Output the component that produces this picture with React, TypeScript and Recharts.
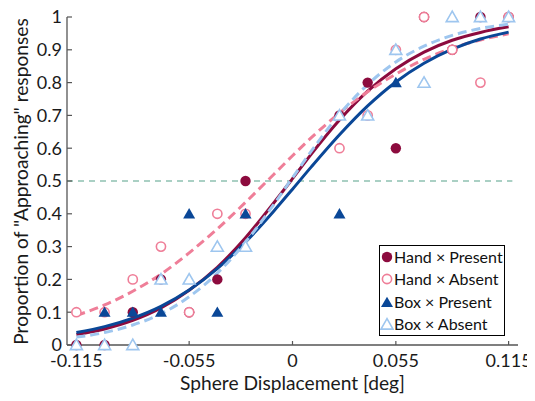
import React from 'react';
import { ComposedChart, XAxis, YAxis, Line, Scatter, ReferenceLine, Legend, Label } from 'recharts';

const FONT = 'Lato, "Open Sans", sans-serif';

const C_HP = '#8c0b3e';
const C_HA = '#ef7e98';
const C_BP = '#0a4797';
const C_BA = '#9ec6ef';
const C_REF = '#8fc1b1';

// Stimulus levels (deg)
const xLevels = [-0.115, -0.1, -0.085, -0.07, -0.055, -0.04, -0.025, 0.025, 0.04, 0.055, 0.07, 0.085, 0.1, 0.115];
// Observed proportions
const handPresent = [0, 0, 0.1, 0.2, 0.1, 0.2, 0.5, 0.7, 0.8, 0.6, 1, 0.9, 1, 1];
const handAbsent = [0.1, 0.1, 0.2, 0.3, 0.1, 0.4, 0.4, 0.6, 0.7, 0.9, 1, 0.9, 0.8, 1];
const boxPresent = [0, 0.1, 0.1, 0.1, 0.4, 0.1, 0.4, 0.4, 0.7, 0.8, 0.8, 1, 1, 1];
const boxAbsent = [0, 0, 0, 0.2, 0.2, 0.3, 0.3, 0.7, 0.7, 0.9, 0.8, 1, 1, 1];

// Fitted curves
const curveX = [-0.115, -0.1, -0.085, -0.07, -0.055, -0.04, -0.025, -0.01, 0, 0.01, 0.025, 0.04, 0.055, 0.07, 0.085, 0.1, 0.115];
const fitHandPresent = [0.032, 0.049, 0.075, 0.113, 0.167, 0.237, 0.327, 0.433, 0.507, 0.582, 0.686, 0.774, 0.842, 0.893, 0.929, 0.953, 0.97];
const fitHandAbsent = [0.09, 0.122, 0.164, 0.216, 0.281, 0.354, 0.435, 0.52, 0.577, 0.632, 0.707, 0.772, 0.826, 0.871, 0.905, 0.93, 0.949];
const fitBoxPresent = [0.038, 0.056, 0.082, 0.118, 0.168, 0.233, 0.314, 0.408, 0.475, 0.543, 0.641, 0.729, 0.802, 0.859, 0.902, 0.933, 0.954];
const fitBoxAbsent = [0.024, 0.038, 0.061, 0.095, 0.147, 0.219, 0.314, 0.428, 0.51, 0.591, 0.703, 0.794, 0.863, 0.911, 0.944, 0.965, 0.978];

const xTicks = [-0.115, -0.055, 0, 0.055, 0.115];
const yTicks = [0, 0.1, 0.2, 0.3, 0.4, 0.5, 0.6, 0.7, 0.8, 0.9, 1];

const seriesNames = ['Hand × Present', 'Hand × Absent', 'Box × Present', 'Box × Absent'];

const toPoints = (xs: number[], ys: number[]) => xs.map((x, i) => ({ x, y: ys[i] }));

const triPoints = (cx: number, cy: number) =>
  `${cx},${cy - 5.8} ${cx - 6},${cy + 4.6} ${cx + 6},${cy + 4.6}`;

const filledCircle = (color: string) => (p: any) => <circle cx={p.cx} cy={p.cy} r={5.2} fill={color} />;
const openCircle = (color: string) => (p: any) => (
  <circle cx={p.cx} cy={p.cy} r={4.6} fill="#fff" stroke={color} strokeWidth={1.6} />
);
const filledTri = (color: string) => (p: any) => <polygon points={triPoints(p.cx, p.cy)} fill={color} />;
const openTri = (color: string) => (p: any) => (
  <polygon points={triPoints(p.cx, p.cy)} fill="#fff" stroke={color} strokeWidth={1.6} strokeLinejoin="miter" />
);

const LegendIcon = ({ kind, color }: { kind: string; color: string }) => {
  const s = 14;
  const c = s / 2;
  let el: any = null;
  if (kind === 'fc') el = <circle cx={c} cy={c} r={5.2} fill={color} />;
  if (kind === 'oc') el = <circle cx={c} cy={c} r={4.6} fill="#fff" stroke={color} strokeWidth={1.6} />;
  if (kind === 'ft') el = <polygon points={triPoints(c, c + 0.5)} fill={color} />;
  if (kind === 'ot') el = <polygon points={triPoints(c, c + 0.5)} fill="#fff" stroke={color} strokeWidth={1.6} />;
  return (
    <svg width={s} height={s} style={{ display: 'block' }}>
      {el}
    </svg>
  );
};

const renderLegend = () => {
  const items = [
    { name: seriesNames[0], kind: 'fc', color: C_HP },
    { name: seriesNames[1], kind: 'oc', color: C_HA },
    { name: seriesNames[2], kind: 'ft', color: C_BP },
    { name: seriesNames[3], kind: 'ot', color: C_BA },
  ];
  return (
    <div
      style={{
        border: '1px solid #000',
        background: '#fff',
        width: 124,
        height: 89,
        boxSizing: 'content-box',
        paddingTop: 0,
        fontFamily: FONT,
        fontSize: 16,
        color: '#111',
      }}
    >
      {items.map((it) => (
        <div key={it.name} style={{ display: 'flex', alignItems: 'center', height: 22.3, paddingLeft: 0 }}>
          <LegendIcon kind={it.kind} color={it.color} />
          <span style={{ marginLeft: 0, whiteSpace: 'nowrap', lineHeight: '22px' }}>{it.name}</span>
        </div>
      ))}
    </div>
  );
};

export default function App() {
  return (
    <ComposedChart
      width={527}
      height={393}
      margin={{ top: 9, right: 17, bottom: 0, left: 0 }}
      style={{ fontFamily: FONT }}
    >
      <XAxis
        type="number"
        dataKey="x"
        domain={[-0.12, 0.12]}
        ticks={xTicks}
        interval={0}
        height={56}
        tickSize={-4}
        tickMargin={13}
        axisLine={{ stroke: '#555', strokeWidth: 1.3 }}
        tickLine={{ stroke: '#555', strokeWidth: 1.2 }}
        tick={{ fill: '#1a1a1a', fontSize: 18, fontFamily: FONT }}
      >
        <Label
          content={() => (
            <text x={284.5} y={382} textAnchor="middle" fill="#1a1a1a" fontSize={19.2} fontFamily={FONT}>
              Sphere Displacement [deg]
            </text>
          )}
        />
      </XAxis>
      <YAxis
        type="number"
        dataKey="y"
        domain={[0, 1]}
        ticks={yTicks}
        interval={0}
        width={59}
        tickSize={-5}
        tickMargin={10}
        axisLine={{ stroke: '#555', strokeWidth: 1.3 }}
        tickLine={{ stroke: '#555', strokeWidth: 1.2 }}
        tick={{ fill: '#1a1a1a', fontSize: 18, fontFamily: FONT }}
      >
        <Label
          content={() => (
            <text
              x={20}
              y={173.5}
              transform="rotate(-90 20 173.5)"
              textAnchor="middle"
              fill="#1a1a1a"
              fontSize={19.2}
              fontFamily={FONT}
            >
              Proportion of "Approaching" responses
            </text>
          )}
        />
      </YAxis>
      <ReferenceLine
        segment={[{ x: -0.12, y: 0.5 }, { x: 0.117, y: 0.5 }]}
        stroke={C_REF}
        strokeWidth={1.3}
        strokeDasharray="6 5"
      />
      <Line data={toPoints(curveX, fitHandPresent)} dataKey="y" type="monotone" stroke={C_HP} strokeWidth={3} dot={false} isAnimationActive={false} legendType="none" />
      <Line data={toPoints(curveX, fitHandAbsent)} dataKey="y" type="monotone" stroke={C_HA} strokeWidth={3} strokeDasharray="9 5" dot={false} isAnimationActive={false} legendType="none" />
      <Line data={toPoints(curveX, fitBoxPresent)} dataKey="y" type="monotone" stroke={C_BP} strokeWidth={3} dot={false} isAnimationActive={false} legendType="none" />
      <Line data={toPoints(curveX, fitBoxAbsent)} dataKey="y" type="monotone" stroke={C_BA} strokeWidth={3} strokeDasharray="9 5" dot={false} isAnimationActive={false} legendType="none" />
      <Scatter name={seriesNames[0]} data={toPoints(xLevels, handPresent)} dataKey="y" shape={filledCircle(C_HP)} isAnimationActive={false} />
      <Scatter name={seriesNames[1]} data={toPoints(xLevels, handAbsent)} dataKey="y" shape={openCircle(C_HA)} isAnimationActive={false} />
      <Scatter name={seriesNames[2]} data={toPoints(xLevels, boxPresent)} dataKey="y" shape={filledTri(C_BP)} isAnimationActive={false} />
      <Scatter name={seriesNames[3]} data={toPoints(xLevels, boxAbsent)} dataKey="y" shape={openTri(C_BA)} isAnimationActive={false} />
      <Legend
        layout="vertical"
        align="center"
        verticalAlign="middle"
        content={renderLegend}
        wrapperStyle={{ left: 371, top: 237, width: 126, height: 91 }}
      />
    </ComposedChart>
  );
}
